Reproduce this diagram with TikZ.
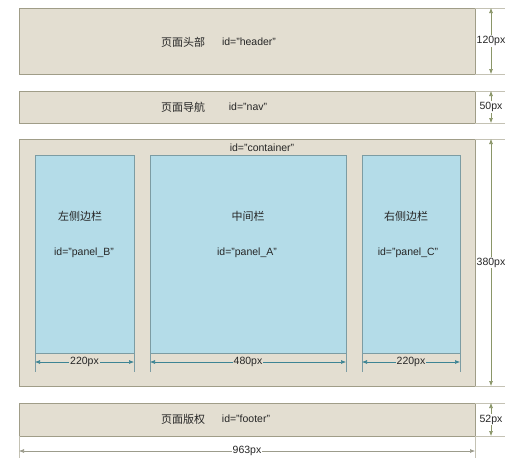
\documentclass[tikz,border=0pt]{standalone}
\usepackage{fontspec}
\setmainfont{Liberation Sans}
\newfontfamily\cjk{Noto Sans CJK SC}
\usetikzlibrary{arrows.meta}
\definecolor{beige}{HTML}{E3DED1}
\definecolor{boxline}{HTML}{A09D88}
\definecolor{panelblue}{HTML}{B4DCE8}
\definecolor{panelline}{HTML}{7C9CA3}
\definecolor{olivedim}{HTML}{8A9668}
\definecolor{tealdim}{HTML}{3D8494}
\definecolor{greydim}{HTML}{9C9C8C}
\definecolor{extline}{HTML}{C4C2B4}
\tikzset{
  box/.style={draw=boxline, fill=beige, line width=0.9pt, inner sep=0pt, outer sep=0pt, anchor=north west},
  panelbox/.style={draw=panelline, fill=panelblue, line width=0.9pt, inner sep=0pt, outer sep=0pt, anchor=north west},
  vdim/.style={draw=olivedim, line width=0.6pt, {Latex[length=5pt,width=4pt]}-{Latex[length=5pt,width=4pt]}},
  pdim/.style={draw=tealdim, line width=0.6pt, {Latex[length=5pt,width=4pt]}-{Latex[length=5pt,width=4pt]}},
  wdim/.style={draw=greydim, line width=0.6pt, {Latex[length=5pt,width=4pt]}-{Latex[length=5pt,width=4pt]}},
  extl/.style={draw=extline, line width=0.6pt},
  pext/.style={draw=panelline, line width=0.9pt},
  zh/.style={font=\cjk\fontsize{11}{13}\selectfont, inner sep=0pt, text=black!85},
  en/.style={font=\fontsize{10.5}{12}\selectfont, inner sep=0pt, text=black!85},
  dlbl/.style={font=\fontsize{10.5}{12}\selectfont, inner sep=1pt, text=black!85}
}
\begin{document}
\begin{tikzpicture}[x=1pt,y=-1pt]
\useasboundingbox (0,0) rectangle (525,466);
\fill[white] (0,0) rectangle (525,466);

% main boxes
\node[box, minimum width=456pt, minimum height=66pt] (header) at (19,8) {};
\node[box, minimum width=456pt, minimum height=32pt] (nav) at (19,91) {};
\node[box, minimum width=456pt, minimum height=247pt] (container) at (19,139) {};
\node[box, minimum width=456pt, minimum height=33pt] (footer) at (19,403) {};

% panels
\node[panelbox, minimum width=99pt, minimum height=198pt] (panelB) at (35,155) {};
\node[panelbox, minimum width=196pt, minimum height=198pt] (panelA) at (150,155) {};
\node[panelbox, minimum width=98pt, minimum height=198pt] (panelC) at (362,155) {};

% texts
\node[zh] (thead) at (183,42) {页面头部};
\node[en] (ihead) at (249,42) {id="header"};
\node[zh] (tnav) at (183,107) {页面导航};
\node[en] (inav) at (248,107) {id="nav"};
\node[en] (icont) at (262,148) {id="container"};
\node[zh] (tB) at (80,216) {左侧边栏};
\node[en] (iB) at (84,253) {id="panel\_B"};
\node[zh] (tA) at (248,216) {中间栏};
\node[en] (iA) at (247,253) {id="panel\_A"};
\node[zh] (tC) at (406,216) {右侧边栏};
\node[en] (iC) at (408,253) {id="panel\_C"};
\node[zh] (tfoot) at (183,419) {页面版权};
\node[en] (ifoot) at (246,419) {id="footer"};

% right extension lines
\coordinate (e1) at (505,8);
\coordinate (e2) at (505,74);
\coordinate (e3) at (505,91);
\coordinate (e4) at (505,123);
\coordinate (e5) at (505,139);
\coordinate (e6) at (505,386);
\coordinate (e7) at (505,403);
\coordinate (e8) at (505,436);
\draw[extl] (header.north east) -- (e1);
\draw[extl] (header.south east) -- (e2);
\draw[extl] (nav.north east) -- (e3);
\draw[extl] (nav.south east) -- (e4);
\draw[extl] (container.north east) -- (e5);
\draw[extl] (container.south east) -- (e6);
\draw[extl] (footer.north east) -- (e7);
\draw[extl] (footer.south east) -- (e8);

% vertical dimensions
\coordinate (v1) at (491,8);
\coordinate (v2) at (491,74);
\coordinate (v3) at (491,91);
\coordinate (v4) at (491,123);
\coordinate (v5) at (491,139);
\coordinate (v6) at (491,386);
\coordinate (v7) at (491,403);
\coordinate (v8) at (491,436);
\draw[vdim] (v1) -- node[dlbl, fill=white] (d120) {120px} (v2);
\draw[vdim] (v3) -- node[dlbl, fill=white] (d50) {50px} (v4);
\draw[vdim] (v5) -- node[dlbl, fill=white] (d380) {380px} (v6);
\draw[vdim] (v7) -- node[dlbl, fill=white] (d52) {52px} (v8);

% panel extension lines
\coordinate (pB1) at (35,372);
\coordinate (pB2) at (134,372);
\coordinate (pA1) at (150,372);
\coordinate (pA2) at (346,372);
\coordinate (pC1) at (362,372);
\coordinate (pC2) at (460,372);
\draw[pext] (panelB.south west) -- (pB1);
\draw[pext] (panelB.south east) -- (pB2);
\draw[pext] (panelA.south west) -- (pA1);
\draw[pext] (panelA.south east) -- (pA2);
\draw[pext] (panelC.south west) -- (pC1);
\draw[pext] (panelC.south east) -- (pC2);

% panel width dimensions
\coordinate (wB1) at (35,362);
\coordinate (wB2) at (134,362);
\coordinate (wA1) at (150,362);
\coordinate (wA2) at (346,362);
\coordinate (wC1) at (362,362);
\coordinate (wC2) at (460,362);
\draw[pdim] (wB1) -- node[dlbl, fill=beige] (d220a) {220px} (wB2);
\draw[pdim] (wA1) -- node[dlbl, fill=beige] (d480) {480px} (wA2);
\draw[pdim] (wC1) -- node[dlbl, fill=beige] (d220b) {220px} (wC2);

% total width
\coordinate (f1) at (19,458);
\coordinate (f2) at (475,458);
\draw[extl] (footer.south west) -- (f1);
\draw[extl] (footer.south east) -- (f2);
\coordinate (t1) at (19,451);
\coordinate (t2) at (475,451);
\draw[wdim] (t1) -- node[dlbl, fill=white] (d963) {963px} (t2);
\end{tikzpicture}
\end{document}
